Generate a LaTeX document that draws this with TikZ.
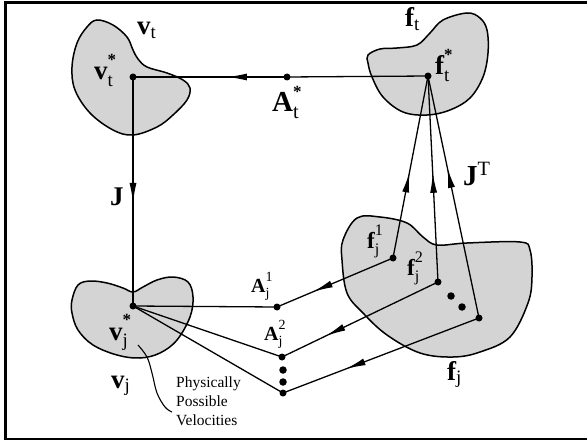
\documentclass[tikz,border=0pt]{standalone}
\usepackage{fontspec}
\setmainfont{Liberation Serif}
\usetikzlibrary{arrows.meta,decorations.markings}
\newcommand{\bst}{\raisebox{5pt}{\fontsize{17}{17}\selectfont\bfseries *}}
\newcommand{\hsup}[1]{\raisebox{3pt}{$\scriptstyle\mathrm{#1}$}}
\tikzset{
  blob/.style={draw=black,line width=1.5pt,fill=black!17},
  conn/.style={draw=black,line width=1.3pt},
  dot/.style={circle,fill=black,inner sep=0pt,minimum size=7pt},
  bigdot/.style={circle,fill=black,inner sep=0pt,minimum size=7.5pt},
  midarrow/.style={postaction={decorate},decoration={markings,mark=at position #1 with {\arrow{Latex[length=20pt,width=7pt]}}}},
  biglab/.style={inner sep=0pt,anchor=base west,font=\fontsize{27}{27}\selectfont},
  smalllab/.style={inner sep=0pt,anchor=base west,font=\fontsize{20}{20}\selectfont},
  note/.style={inner sep=0pt,anchor=north west,align=left,font=\fontsize{15.5}{19}\selectfont}
}
\begin{document}
\begin{tikzpicture}[x=1pt,y=-1pt]
\useasboundingbox (0,0) rectangle (587,444);
% frame
\draw[line width=2.5pt] (587,2.5) -- (5.5,2.5) -- (5.5,439) -- (587,439);
% blobs
\draw[blob] plot[smooth cycle,tension=0.6] coordinates {(97,20) (113,25) (127,37) (133,50) (138,59) (147,67) (167,73) (183,80) (190,88) (187,100) (173,115) (157,127) (133,135) (113,130) (90,113) (75,90) (72,67) (77,43) (87,27)};
\draw[blob] plot[smooth cycle,tension=0.6] coordinates {(368,55) (380,49) (397,48) (417,45) (430,33) (443,20) (467,13) (480,18) (487,30) (488,53) (483,77) (470,98) (450,110) (427,115) (403,112) (383,97) (372,77) (368,63)};
\draw[blob] plot[smooth cycle,tension=0.6] coordinates {(72,300) (78,285) (90,281) (107,283) (123,288) (133,292) (143,287) (157,280) (173,277) (188,282) (193,297) (190,317) (177,340) (160,353) (140,358) (117,355) (93,345) (78,330) (72,313)};
\draw[blob] plot[smooth cycle,tension=0.6] coordinates {(343,240) (357,218) (380,217) (407,223) (423,237) (437,245) (467,243) (520,242) (530,250) (532,277) (528,303) (510,337) (480,352) (453,357) (420,353) (387,335) (363,313) (347,293) (342,260)};
% points
\node[dot] (vt) at (133,77) {};
\node[dot] (At) at (287,77) {};
\node[dot] (ft) at (428,76) {};
\node[dot] (vj) at (133,306) {};
\node[dot] (Aj1) at (277,307) {};
\node[dot] (Aj2) at (282,357) {};
\node[bigdot] (ad1) at (283,370) {};
\node[bigdot] (ad2) at (283,382) {};
\node[dot] (Aj3) at (283,393) {};
\node[dot] (fj1) at (393,258) {};
\node[dot] (fj2) at (438,282) {};
\node[bigdot] (fd1) at (451,296) {};
\node[bigdot] (fd2) at (462,307) {};
\node[dot] (fj3) at (479,318) {};
% connectors
\draw[conn] (ft.center) -- (At.center);
\draw[conn,midarrow=0.39] (At.center) -- (vt.center);
\draw[conn,midarrow=0.55] (vt.center) -- (vj.center);
\draw[conn] (vj.center) -- (Aj1.center);
\draw[conn] (vj.center) -- (Aj2.center);
\draw[conn] (vj.center) -- (Aj3.center);
\draw[conn,midarrow=0.69] (fj1.center) -- (Aj1.center);
\draw[conn,midarrow=0.72] (fj2.center) -- (Aj2.center);
\draw[conn,midarrow=0.68] (fj3.center) -- (Aj3.center);
\draw[conn,midarrow=0.47] (fj1.center) -- (ft.center);
\draw[conn,midarrow=0.53] (fj2.center) -- (ft.center);
\draw[conn,midarrow=0.62] (fj3.center) -- (ft.center);
% labels
\node[biglab] (lvt) at (137,35) {$\mathbf{v}_{\mathrm{t}}$};
\node[biglab] (lvts) at (94,80) {$\mathbf{v}^{\bst}_{\mathrm{t}}$};
\node[biglab] (lft) at (405,27) {$\mathbf{f}_{\mathrm{t}}$};
\node[biglab] (lfts) at (435,75) {$\mathbf{f}^{\bst}_{\mathrm{t}}$};
\node[biglab,font=\fontsize{29}{29}\selectfont] (lAt) at (272,112) {$\mathbf{A}^{\bst}_{\mathrm{t}}$};
\node[biglab] (lJ) at (110,205) {$\mathbf{J}$};
\node[biglab,font=\fontsize{29}{29}\selectfont] (lJT) at (463,185) {$\mathbf{J}^{\mathrm{T}}$};
\node[biglab,font=\fontsize{23}{23}\selectfont] (lfj1) at (367,248) {$\mathbf{f}^{\hsup{1}}_{\mathrm{j}}$};
\node[biglab,font=\fontsize{23}{23}\selectfont] (lfj2) at (407,275) {$\mathbf{f}^{\hsup{2}}_{\mathrm{j}}$};
\node[biglab] (lfj) at (447,380) {$\mathbf{f}_{\mathrm{j}}$};
\node[biglab] (lvjs) at (109,340) {$\mathbf{v}^{\bst}_{\mathrm{j}}$};
\node[biglab] (lvj) at (111,388) {$\mathbf{v}_{\mathrm{j}}$};
\node[smalllab] (lAj1) at (251,292) {$\mathbf{A}^{\hsup{1}}_{\mathrm{j}}$};
\node[smalllab] (lAj2) at (264,340) {$\mathbf{A}^{\hsup{2}}_{\mathrm{j}}$};
\node[note] (ppv) at (176,377) {Physically\\Possible\\Velocities};
\coordinate (cs) at (138,345);
\coordinate (ce) at (172,412);
\draw[line width=1.1pt] plot[smooth,tension=0.6] coordinates {(cs) (147,357) (152,373) (157,393) (165,407) (ce)};
\end{tikzpicture}
\end{document}
